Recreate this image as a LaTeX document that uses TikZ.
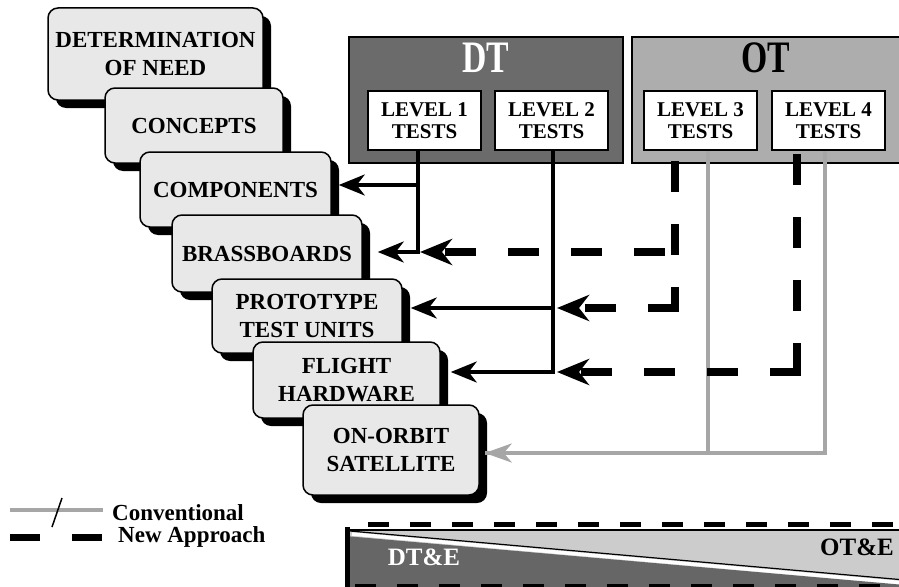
\documentclass[tikz,border=0pt]{standalone}
\usepackage{fontspec}
\setmainfont{Liberation Serif}
\usepackage{graphicx}
\usetikzlibrary{arrows.meta,shadows}

\begin{document}
\begin{tikzpicture}[x=1pt,y=-1pt,
    stage/.style={draw,line width=1.5pt,rounded corners=10pt,fill=black!9,
      inner sep=0pt,align=center,font=\fontsize{23}{28}\selectfont\bfseries,
      drop shadow={shadow xshift=8pt,shadow yshift=-8pt,fill=black,opacity=1}},
    level/.style={draw,line width=1.2pt,fill=white,inner sep=0pt,
      minimum width=113pt,minimum height=59pt,align=center,
      font=\fontsize{21}{22}\selectfont\bfseries},
    devline/.style={line width=3.5pt},
    newline/.style={line width=8pt,line cap=rect,dash pattern=on 23pt off 40pt},
    convline/.style={line width=3.5pt,black!35},
    tip/.style={-{Stealth[length=26pt,width=21pt,inset=8pt]}},
    bigtip/.style={-{Stealth[length=32pt,width=26pt,inset=10pt]}},
    graytip/.style={-{Stealth[length=27pt,width=19pt,inset=8pt,fill=black!35]}},
    legendtext/.style={anchor=base west,inner sep=0pt,font=\fontsize{23}{28}\selectfont\bfseries},
  ]

  \useasboundingbox (0,0) rectangle (899,586);

  % staircase of stages
  \node[stage,minimum width=215pt,minimum height=92pt] (need) at (155.5,54) {DETERMINATION\\OF NEED};
  \node[stage,minimum width=178pt,minimum height=75pt] (conc) at (194,125.5) {CONCEPTS};
  \node[stage,minimum width=191pt,minimum height=75pt] (comp) at (235.5,189.5) {COMPONENTS};
  \node[stage,minimum width=190pt,minimum height=77pt] (brass) at (267,253.5) {BRASSBOARDS};
  \node[stage,minimum width=190pt,minimum height=74pt] (proto) at (307,316) {PROTOTYPE\\TEST UNITS};
  \node[stage,minimum width=187pt,minimum height=76pt] (flight) at (346.5,380) {FLIGHT\\HARDWARE};
  \node[stage,minimum width=176pt,minimum height=90pt] (orbit) at (391,450) {ON-ORBIT\\SATELLITE};

  % DT and OT blocks
  \node[draw,line width=1.5pt,fill=black!58,inner sep=0pt,minimum width=274pt,minimum height=126pt] (dt) at (486,100) {};
  \node[draw,line width=1.5pt,fill=black!32,inner sep=0pt,minimum width=280pt,minimum height=126pt] (ot) at (772,100) {};
  \node[text=white,font=\fontsize{45}{45}\selectfont\bfseries] (dttitle) at (486,58) {\scalebox{0.75}[1]{DT}};
  \node[font=\fontsize{45}{45}\selectfont\bfseries] (ottitle) at (766,58) {\scalebox{0.75}[1]{OT}};
  \foreach \n/\x in {1/424.5,2/551.5,3/700.5,4/828.5}
    \node[level] (lv\n) at (\x,120.5) {LEVEL \n\\TESTS};

  % junctions
  \coordinate (b1) at (420,252);
  \coordinate (p2) at (557,308);
  \coordinate (f2) at (557,372);
  \coordinate (c3) at (675,252);
  \coordinate (k3) at (675,308);
  \coordinate (k4) at (797,372);

  % conventional
  \draw[convline] ([xshift=7.5pt]lv3.south) |- ([xshift=5pt,yshift=-3pt]orbit.east);
  \draw[convline,graytip] ([xshift=-3.5pt]lv4.south) |- ([xshift=5pt,yshift=-3pt]orbit.east);

  % level 1 and level 2 feeds
  \draw[devline,tip] ([xshift=-6.5pt]lv1.south) |- ([xshift=7pt,yshift=4.5pt]comp.east);
  \draw[devline,tip] ([xshift=-6.5pt]lv1.south) |- ([xshift=15pt,yshift=1.5pt]brass.east);
  \draw[devline,tip] ([xshift=1.5pt]lv2.south) |- ([xshift=8pt,yshift=8pt]proto.east);
  \draw[devline,tip] ([xshift=1.5pt]lv2.south) |- ([xshift=10pt,yshift=8pt]flight.east);

  % new approach
  \draw[newline,dash phase=49pt] ([xshift=-25.5pt]lv3.south) -- (k3);
  \draw[newline,bigtip] (k3) -- (p2);
  \draw[newline,bigtip,dash phase=49pt] (c3) -- (b1);
  \draw[newline,dash phase=56pt] ([xshift=-31.5pt]lv4.south) -- (k4);
  \draw[newline,bigtip] (k4) -- (f2);

  % legend
  \draw[convline] (10,510) -- (103,510);
  \draw[line width=1.5pt] (62,498) -- (52,527);
  \node[legendtext] (conv) at (112,520) {Conventional};
  \draw[line width=7pt,dash pattern=on 30pt off 32pt] (10,537) -- (102,537);
  \node[legendtext] (newapp) at (118,542) {New Approach};

  % DT&E / OT&E band
  \fill[black!20] (345,530) rectangle (905,592);
  \fill[black!60] (345,536) -- (905,585) -- (905,592) -- (345,592) -- cycle;
  \draw[white,line width=3.5pt] (352,534) -- (905,583);
  \draw[line width=1.2pt] (350,531) -- (905,580);
  \draw[line width=1.5pt] (345,530) -- (905,530);
  \draw[line width=5pt] (347.5,527) -- (347.5,592);
  \draw[line width=5pt,dash pattern=on 21pt off 21pt] (368,524.5) -- (905,524.5);
  \draw[line width=3pt,dash pattern=on 21pt off 21pt] (355,585.5) -- (905,585.5);
  \node[text=white,font=\fontsize{25}{25}\selectfont\bfseries] (dte) at (424,557) {DT\&E};
  \node[font=\fontsize{25}{25}\selectfont\bfseries] (ote) at (857,547) {OT\&E};
\end{tikzpicture}
\end{document}
